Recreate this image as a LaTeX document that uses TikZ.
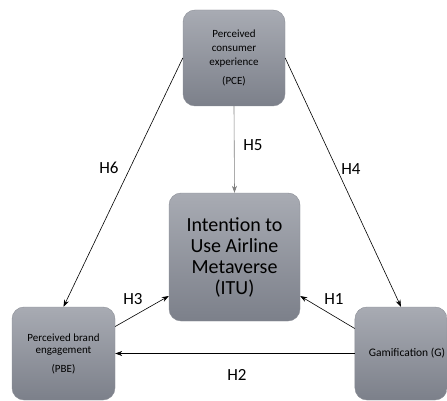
\documentclass[tikz,border=0pt]{standalone}
\usepackage{fontspec}
\setmainfont{Carlito}
\usepackage{xcolor}
\usetikzlibrary{positioning,arrows.meta}
\definecolor{boxtop}{RGB}{168,171,179}
\definecolor{boxbot}{RGB}{124,128,138}
\definecolor{boxline}{RGB}{138,141,149}

\begin{document}
\begin{tikzpicture}[x=1pt, y=-1pt,
    box/.style={draw=boxline, line width=0.4pt, rounded corners=12pt,
                top color=boxtop, bottom color=boxbot, align=center,
                inner sep=2pt},
    arr/.style={-{Stealth[length=7pt,width=5pt]}, line width=0.6pt},
    hyp/.style={font=\fontsize{17}{19}\selectfont},
]
  \useasboundingbox (0,0) rectangle (447,401);
  % Constructs
  \node[box, minimum width=102pt, minimum height=96pt,
        font=\fontsize{11}{14}\selectfont] (pce) at (234,58)
        {Perceived\\consumer\\experience\\[5pt](PCE)};
  \node[box, minimum width=131pt, minimum height=128pt,
        font=\fontsize{20}{21}\selectfont] (itu) at (234.5,257)
        {Intention to\\Use Airline\\Metaverse\\(ITU)};
  \node[box, minimum width=103pt, minimum height=93pt,
        font=\fontsize{11}{12.5}\selectfont] (pbe) at (63.5,353.5)
        {Perceived brand\\engagement\\[6pt](PBE)};
  \node[box, minimum width=92pt, minimum height=93pt,
        font=\fontsize{11.5}{13}\selectfont] (g) at (401,353.5)
        {\hspace*{12pt}Gamification (G)};
  % Paths
  \draw[arr, gray] (pce.south) -- (itu.north);
  \draw[arr] (pce.west) -- (pbe.north);
  \draw[arr] (pce.east) -- (g.north);
  \draw[arr] ([yshift=25pt]g.west) -- ([yshift=-39pt]itu.east);
  \draw[arr] ([yshift=27pt]pbe.east) -- ([yshift=-39pt]itu.west);
  \draw[arr] (g.west) -- (pbe.east);
  % Hypotheses
  \node[hyp] (h5) at (253,145) {H5};
  \node[hyp] (h6) at (109,168) {H6};
  \node[hyp] (h4) at (351,169) {H4};
  \node[hyp] (h3) at (133,299) {H3};
  \node[hyp] (h1) at (334,299) {H1};
  \node[hyp] (h2) at (237,375) {H2};
\end{tikzpicture}
\end{document}
